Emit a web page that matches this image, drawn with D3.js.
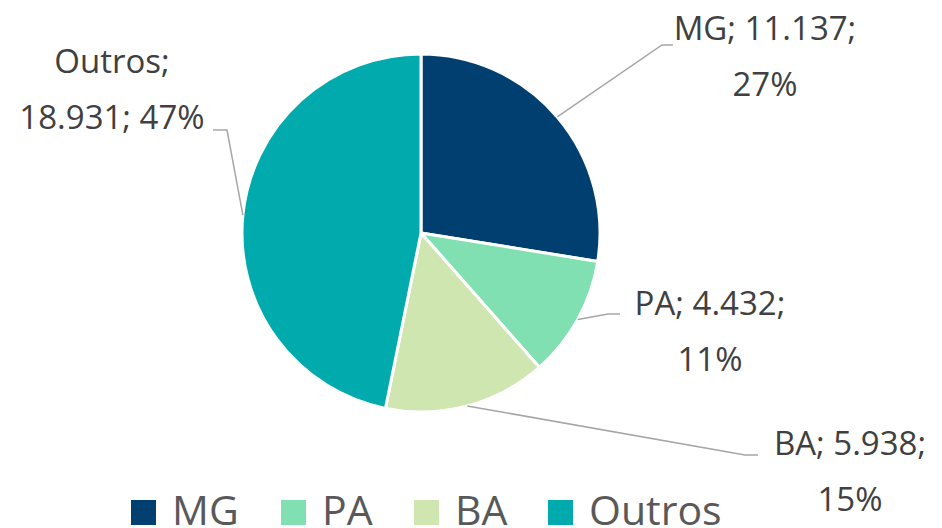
<!DOCTYPE html>
<html>
<head>
<meta charset="utf-8">
<script src="https://cdn.jsdelivr.net/npm/d3@7"></script>
<style>
  body { margin: 0; background: #fff; }
  svg { display: block; font-family: "Open Sans", sans-serif; }
</style>
</head>
<body>
<svg id="chart" width="942" height="528"></svg>
<script>
// Data
const categories = ['MG', 'PA', 'BA', 'Outros'];
const values = [11137, 4432, 5938, 18931];
const percentLabels = ['27%', '11%', '15%', '47%'];
const colors = ['#003F6F', '#80E0B1', '#D0E6B0', '#00AAAD'];

const fmt = v => d3.format(',')(v).replace(/,/g, '.');

const width = 942, height = 528;
const cx = 421, cy = 233, radius = 179;

// label layout: text lines, anchor and leader elbow
const labelLayout = [
  { x: 765, y: 40, lines: (d, p) => [`MG; ${fmt(d)};`, p], elbow: [662, 45], end: [673, 45] },
  { x: 710, y: 315, lines: (d, p) => [`PA; ${fmt(d)};`, p], elbow: [608, 314], end: [620, 314] },
  { x: 850, y: 455, lines: (d, p) => [`BA; ${fmt(d)};`, p], elbow: [745, 455], end: [758, 455] },
  { x: 112, y: 73, lines: (d, p) => ['Outros;', `${fmt(d)}; ${p}`], elbow: [227, 130], end: [213, 130] }
];

const svg = d3.select('#chart');

const pie = d3.pie().sort(null).value(d => d);
const arcs = pie(values);
const arc = d3.arc().innerRadius(0).outerRadius(radius);

const g = svg.append('g').attr('transform', `translate(${cx},${cy})`);

g.selectAll('path.slice')
  .data(arcs)
  .enter()
  .append('path')
  .attr('class', 'slice')
  .attr('d', arc)
  .attr('fill', (d, i) => colors[i])
  .attr('stroke', '#fff')
  .attr('stroke-width', 3)
  .attr('stroke-linejoin', 'round');

// Leader lines from the slice edge at mid angle
arcs.forEach((d, i) => {
  const mid = (d.startAngle + d.endAngle) / 2;
  const sx = cx + radius * Math.sin(mid);
  const sy = cy - radius * Math.cos(mid);
  const L = labelLayout[i];
  svg.append('polyline')
    .attr('points', [[sx, sy], L.elbow, L.end].map(p => p.join(',')).join(' '))
    .attr('fill', 'none')
    .attr('stroke', '#A6A6A6')
    .attr('stroke-width', 1.5);
});

// Data labels
labelLayout.forEach((L, i) => {
  const t = svg.append('text')
    .attr('x', L.x)
    .attr('y', L.y)
    .attr('text-anchor', 'middle')
    .attr('fill', '#404040')
    .style('font-size', '33px');
  L.lines(values[i], percentLabels[i]).forEach((line, j) => {
    t.append('tspan')
      .attr('x', L.x)
      .attr('y', L.y + j * 56)
      .text(line);
  });
});

// Legend
const legendX = [131, 281, 414, 548];
const legend = svg.append('g');
categories.forEach((c, i) => {
  legend.append('rect')
    .attr('x', legendX[i])
    .attr('y', 500)
    .attr('width', 25)
    .attr('height', 25)
    .attr('fill', colors[i]);
  legend.append('text')
    .attr('x', legendX[i] + 41)
    .attr('y', 525)
    .attr('fill', '#595959')
    .style('font-size', '41px')
    .text(c);
});
</script>
</body>
</html>
